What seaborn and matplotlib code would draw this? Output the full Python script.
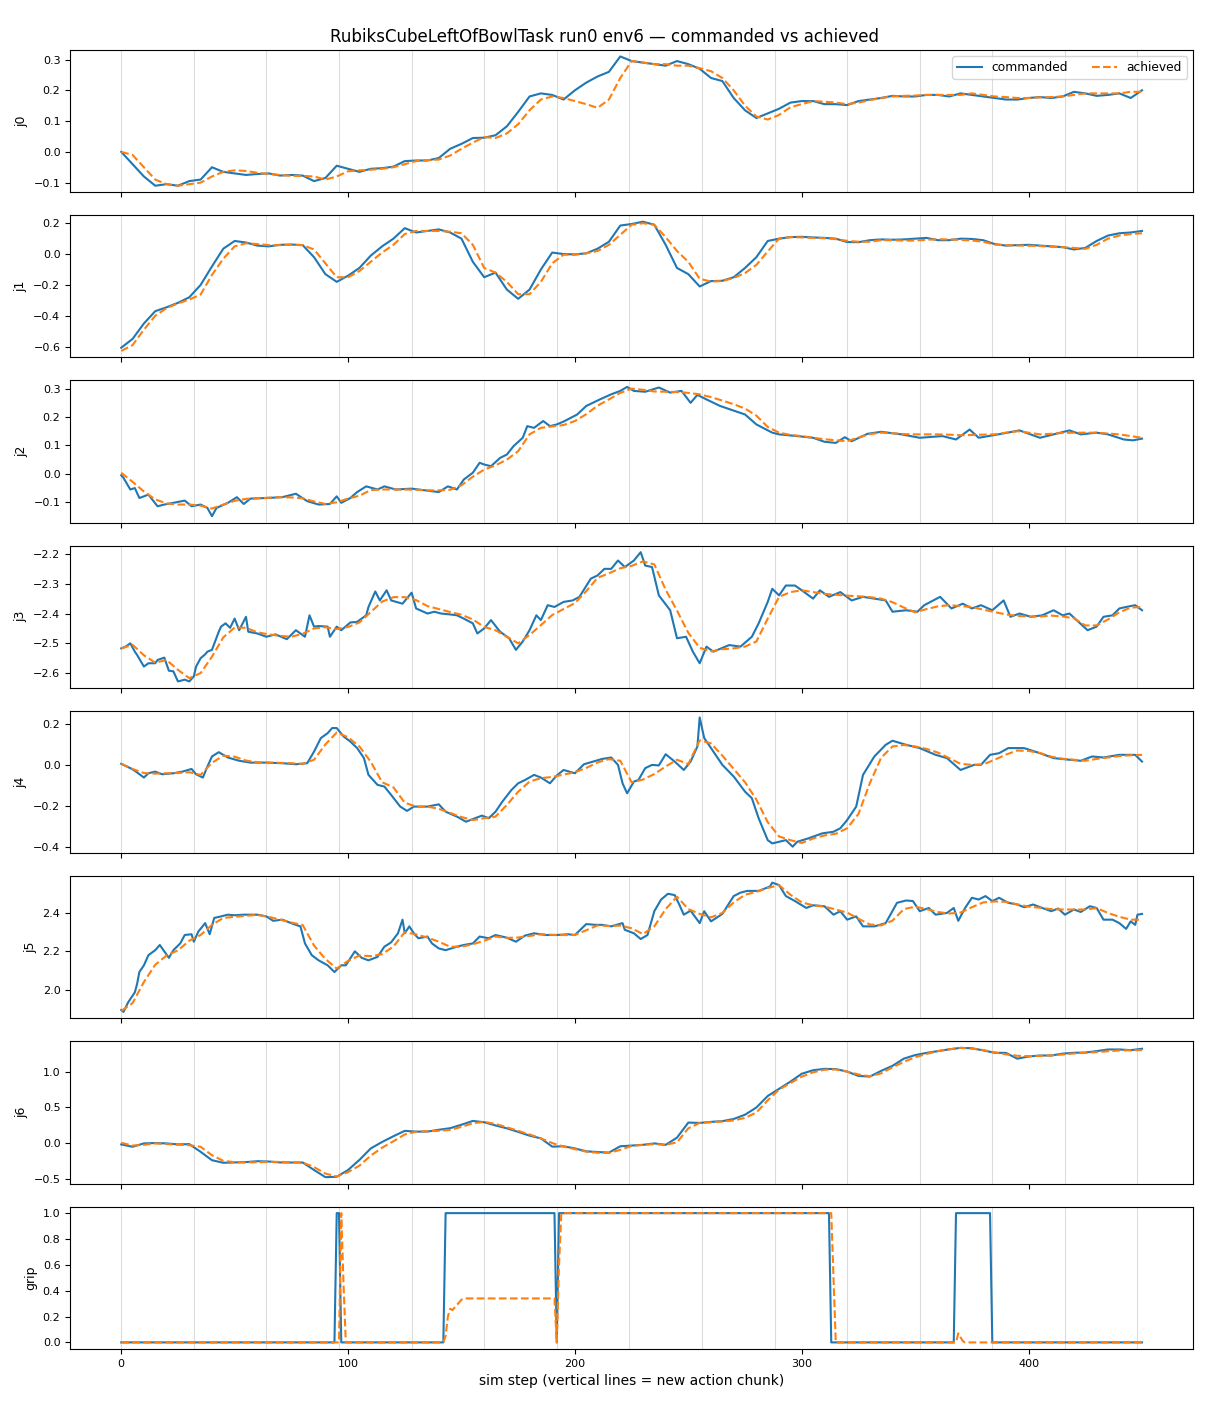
import matplotlib
matplotlib.use("Agg")
import matplotlib.pyplot as plt
import seaborn as sns

# sampled sim steps (every 5th step) and action chunk starts
steps = list(range(0, 451, 5))
chunk_starts = [0, 32, 64, 96, 128, 160, 192, 224, 256, 288, 320, 352, 384, 416, 448]

j0_cmd = [0.0, -0.04, -0.08, -0.11, -0.105, -0.11, -0.095, -0.09, -0.05, -0.065,
          -0.07, -0.075, -0.072, -0.07, -0.077, -0.075, -0.077, -0.095, -0.085, -0.045,
          -0.055, -0.065, -0.055, -0.053, -0.048, -0.03, -0.028, -0.028, -0.02, 0.01,
          0.026, 0.045, 0.046, 0.054, 0.083, 0.13, 0.18, 0.19, 0.185, 0.17,
          0.2, 0.225, 0.245, 0.26, 0.31, 0.295, 0.29, 0.285, 0.28, 0.295,
          0.285, 0.27, 0.24, 0.23, 0.175, 0.135, 0.11, 0.125, 0.14, 0.16,
          0.165, 0.165, 0.155, 0.155, 0.152, 0.165, 0.17, 0.175, 0.182, 0.18,
          0.18, 0.185, 0.185, 0.18, 0.19, 0.185, 0.18, 0.175, 0.17, 0.17,
          0.175, 0.178, 0.175, 0.18, 0.195, 0.19, 0.182, 0.185, 0.19, 0.175,
          0.2]
j0_ach = [0.0, -0.01, -0.05, -0.09, -0.105, -0.11, -0.105, -0.1, -0.08, -0.065,
          -0.06, -0.062, -0.068, -0.072, -0.075, -0.078, -0.078, -0.08, -0.09, -0.08,
          -0.063, -0.06, -0.058, -0.055, -0.05, -0.04, -0.03, -0.027, -0.025, -0.012,
          0.01, 0.03, 0.048, 0.045, 0.06, 0.09, 0.135, 0.17, 0.18, 0.175,
          0.165, 0.155, 0.143, 0.17, 0.24, 0.295, 0.29, 0.285, 0.285, 0.28,
          0.28, 0.272, 0.262, 0.24, 0.2, 0.15, 0.115, 0.105, 0.12, 0.145,
          0.155, 0.165, 0.163, 0.16, 0.155, 0.16, 0.168, 0.175, 0.18, 0.182,
          0.183, 0.185, 0.185, 0.185, 0.185, 0.19, 0.185, 0.18, 0.178, 0.175,
          0.175, 0.177, 0.178, 0.18, 0.185, 0.19, 0.19, 0.19, 0.19, 0.195,
          0.195]

j1_cmd = [-0.607, -0.55, -0.45, -0.37, -0.345, -0.316, -0.28, -0.2, -0.08, 0.035,
          0.085, 0.075, 0.055, 0.05, 0.06, 0.062, 0.058, -0.02, -0.13, -0.18,
          -0.14, -0.09, -0.01, 0.05, 0.1, 0.168, 0.14, 0.15, 0.16, 0.14,
          0.1, -0.05, -0.15, -0.12, -0.23, -0.29, -0.23, -0.1, 0.01, 0.0,
          -0.002, 0.005, 0.035, 0.08, 0.185, 0.195, 0.21, 0.19, 0.06, -0.09,
          -0.13, -0.21, -0.175, -0.173, -0.15, -0.09, -0.02, 0.085, 0.1, 0.11,
          0.112, 0.108, 0.105, 0.1, 0.078, 0.077, 0.09, 0.095, 0.093, 0.095,
          0.1, 0.105, 0.09, 0.09, 0.1, 0.098, 0.09, 0.065, 0.055, 0.058,
          0.06, 0.055, 0.05, 0.045, 0.03, 0.04, 0.085, 0.12, 0.135, 0.14,
          0.15]
j1_ach = [-0.628, -0.59, -0.49, -0.4, -0.35, -0.32, -0.295, -0.262, -0.135, -0.03,
          0.05, 0.07, 0.065, 0.058, 0.058, 0.06, 0.058, 0.03, -0.06, -0.15,
          -0.15, -0.11, -0.05, 0.01, 0.06, 0.13, 0.15, 0.15, 0.15, 0.145,
          0.135, 0.06, -0.09, -0.12, -0.18, -0.26, -0.26, -0.18, -0.06, -0.004,
          -0.004, 0.005, 0.02, 0.06, 0.125, 0.19, 0.2, 0.19, 0.11, 0.02,
          -0.05, -0.16, -0.178, -0.175, -0.155, -0.123, -0.07, 0.017, 0.1, 0.11,
          0.108, 0.105, 0.103, 0.097, 0.086, 0.08, 0.08, 0.09, 0.09, 0.087,
          0.088, 0.093, 0.096, 0.095, 0.092, 0.088, 0.08, 0.062, 0.058, 0.056,
          0.054, 0.052, 0.048, 0.045, 0.04, 0.034, 0.06, 0.1, 0.12, 0.13,
          0.135]

# (step, value) readings of the noisier commanded traces
j2_cmd_pts = [(0, -0.005), (1, -0.014), (4, -0.055), (6, -0.05), (8, -0.085), (12, -0.073),
              (16, -0.114), (19, -0.108), (23, -0.102), (28, -0.094), (31, -0.114), (35, -0.108),
              (38, -0.12), (40, -0.149), (42, -0.12), (47, -0.102), (51, -0.082), (54, -0.106),
              (57, -0.087), (64, -0.085), (71, -0.082), (77, -0.07), (82, -0.096), (87, -0.108),
              (92, -0.106), (95, -0.079), (97, -0.102), (101, -0.085), (104, -0.064), (108, -0.044),
              (113, -0.055), (116, -0.044), (121, -0.055), (128, -0.052), (135, -0.059), (140, -0.064),
              (144, -0.044), (148, -0.055), (151, -0.02), (155, 0.004), (158, 0.039), (160, 0.033),
              (163, 0.027), (167, 0.056), (170, 0.068), (173, 0.098), (177, 0.127), (179, 0.168),
              (182, 0.162), (186, 0.186), (189, 0.168), (192, 0.174), (195, 0.184), (201, 0.209),
              (205, 0.239), (211, 0.262), (216, 0.28), (220, 0.292), (223, 0.306), (226, 0.292),
              (231, 0.289), (237, 0.304), (242, 0.286), (247, 0.292), (251, 0.25), (254, 0.278),
              (258, 0.262), (264, 0.239), (275, 0.209), (280, 0.174), (287, 0.145), (290, 0.139),
              (298, 0.133), (305, 0.127), (310, 0.113), (315, 0.109), (319, 0.129), (322, 0.115),
              (329, 0.141), (335, 0.148), (344, 0.139), (352, 0.127), (362, 0.133), (368, 0.121),
              (374, 0.156), (378, 0.127), (388, 0.141), (396, 0.153), (405, 0.127), (411, 0.139),
              (418, 0.153), (423, 0.139), (430, 0.145), (435, 0.139), (442, 0.121), (446, 0.118),
              (450, 0.124)]
j2_ach = [0.004, -0.028, -0.062, -0.09, -0.104, -0.108, -0.108, -0.112, -0.122, -0.108,
          -0.095, -0.088, -0.086, -0.084, -0.082, -0.083, -0.086, -0.097, -0.106, -0.1,
          -0.087, -0.077, -0.057, -0.055, -0.055, -0.055, -0.056, -0.058, -0.058, -0.056,
          -0.04, -0.01, 0.015, 0.03, 0.05, 0.08, 0.139, 0.162, 0.167, 0.172,
          0.186, 0.21, 0.24, 0.262, 0.285, 0.3, 0.296, 0.29, 0.289, 0.288,
          0.285, 0.28, 0.27, 0.258, 0.245, 0.23, 0.205, 0.165, 0.145, 0.137,
          0.133, 0.127, 0.122, 0.118, 0.115, 0.128, 0.14, 0.145, 0.143, 0.14,
          0.139, 0.139, 0.139, 0.138, 0.136, 0.137, 0.138, 0.139, 0.145, 0.15,
          0.145, 0.139, 0.141, 0.144, 0.145, 0.145, 0.145, 0.142, 0.139, 0.133,
          0.127]

j3_cmd_pts = [(0, -2.517), (2, -2.511), (4, -2.5), (6, -2.528), (7, -2.539), (10, -2.578),
              (12, -2.567), (15, -2.567), (16, -2.556), (19, -2.548), (21, -2.592), (23, -2.594),
              (25, -2.628), (28, -2.622), (30, -2.628), (32, -2.611), (33, -2.578), (35, -2.55),
              (37, -2.537), (38, -2.528), (40, -2.522), (43, -2.461), (44, -2.444), (46, -2.433),
              (48, -2.448), (50, -2.417), (52, -2.456), (55, -2.411), (56, -2.461), (60, -2.467),
              (64, -2.478), (68, -2.47), (73, -2.486), (77, -2.456), (81, -2.478), (83, -2.406),
              (85, -2.444), (87, -2.442), (91, -2.444), (92, -2.478), (95, -2.444), (97, -2.456),
              (101, -2.43), (104, -2.428), (108, -2.406), (109, -2.378), (112, -2.326), (114, -2.356),
              (117, -2.322), (119, -2.356), (124, -2.367), (128, -2.33), (130, -2.383), (135, -2.4),
              (138, -2.394), (141, -2.4), (145, -2.403), (148, -2.406), (151, -2.417), (155, -2.433),
              (157, -2.467), (160, -2.45), (163, -2.422), (167, -2.461), (171, -2.483), (174, -2.522),
              (177, -2.494), (180, -2.456), (183, -2.406), (185, -2.422), (188, -2.372), (191, -2.378),
              (195, -2.361), (199, -2.356), (202, -2.344), (207, -2.283), (210, -2.272), (213, -2.25),
              (216, -2.25), (219, -2.222), (222, -2.244), (226, -2.222), (229, -2.194), (231, -2.239),
              (234, -2.244), (237, -2.339), (242, -2.389), (245, -2.483), (249, -2.478), (252, -2.528),
              (255, -2.567), (258, -2.511), (261, -2.528), (268, -2.506), (273, -2.511), (278, -2.478),
              (281, -2.433), (285, -2.361), (287, -2.317), (290, -2.339), (293, -2.306), (297, -2.306),
              (300, -2.322), (305, -2.35), (308, -2.322), (312, -2.344), (317, -2.328), (322, -2.356),
              (327, -2.344), (332, -2.35), (337, -2.356), (340, -2.394), (346, -2.389), (351, -2.394),
              (354, -2.372), (361, -2.344), (366, -2.383), (371, -2.367), (375, -2.383), (379, -2.372),
              (384, -2.389), (389, -2.356), (392, -2.411), (396, -2.4), (401, -2.411), (406, -2.406),
              (411, -2.389), (415, -2.406), (418, -2.4), (422, -2.428), (426, -2.456), (430, -2.444),
              (433, -2.411), (437, -2.406), (440, -2.383), (443, -2.378), (447, -2.372), (450, -2.389)]
j3_ach = [-2.517, -2.505, -2.54, -2.565, -2.556, -2.589, -2.617, -2.6, -2.545, -2.48,
          -2.447, -2.448, -2.463, -2.47, -2.475, -2.478, -2.468, -2.45, -2.446, -2.452,
          -2.445, -2.43, -2.395, -2.36, -2.345, -2.345, -2.355, -2.375, -2.385, -2.395,
          -2.404, -2.42, -2.445, -2.456, -2.478, -2.5, -2.472, -2.439, -2.405, -2.385,
          -2.365, -2.325, -2.28, -2.265, -2.248, -2.24, -2.225, -2.235, -2.32, -2.39,
          -2.465, -2.515, -2.527, -2.52, -2.517, -2.511, -2.494, -2.417, -2.344, -2.328,
          -2.322, -2.328, -2.334, -2.337, -2.34, -2.342, -2.345, -2.35, -2.362, -2.38,
          -2.396, -2.385, -2.376, -2.372, -2.375, -2.378, -2.387, -2.395, -2.403, -2.408,
          -2.41, -2.41, -2.407, -2.41, -2.416, -2.44, -2.44, -2.42, -2.396, -2.38,
          -2.378]

j4_cmd_pts = [(0, 0.005), (4, -0.016), (6, -0.029), (10, -0.062), (12, -0.041), (15, -0.033),
              (18, -0.046), (23, -0.041), (27, -0.033), (31, -0.02), (33, -0.046), (36, -0.062),
              (38, -0.008), (40, 0.041), (43, 0.062), (47, 0.036), (52, 0.02), (57, 0.011),
              (64, 0.011), (71, 0.008), (77, 0.003), (82, 0.008), (85, 0.065), (88, 0.131),
              (91, 0.155), (93, 0.18), (95, 0.18), (98, 0.139), (101, 0.114), (104, 0.082),
              (107, 0.033), (109, -0.049), (113, -0.098), (116, -0.106), (119, -0.147), (123, -0.204),
              (126, -0.225), (129, -0.204), (135, -0.204), (140, -0.193), (143, -0.229), (148, -0.253),
              (152, -0.278), (156, -0.261), (159, -0.248), (162, -0.261), (165, -0.229), (168, -0.18),
              (172, -0.123), (175, -0.09), (178, -0.074), (182, -0.049), (185, -0.062), (189, -0.09),
              (192, -0.052), (195, -0.025), (200, -0.041), (204, 0.003), (208, 0.016), (212, 0.029),
              (216, 0.036), (219, 0.0), (221, -0.09), (223, -0.139), (226, -0.082), (228, -0.074),
              (231, -0.016), (234, 0.0), (237, -0.003), (240, 0.052), (244, 0.016), (248, -0.025),
              (251, 0.016), (254, 0.09), (255, 0.232), (257, 0.131), (260, 0.082), (265, 0.0),
              (270, -0.057), (275, -0.131), (278, -0.163), (281, -0.261), (285, -0.368), (287, -0.384),
              (290, -0.376), (293, -0.368), (296, -0.4), (298, -0.376), (303, -0.359), (309, -0.335),
              (314, -0.327), (317, -0.31), (320, -0.27), (324, -0.204), (327, -0.049), (332, 0.041),
              (337, 0.098), (340, 0.118), (346, 0.098), (352, 0.082), (359, 0.049), (364, 0.033),
              (370, -0.025), (376, 0.0), (379, 0.0), (383, 0.049), (387, 0.057), (391, 0.082),
              (398, 0.082), (405, 0.057), (411, 0.033), (418, 0.025), (423, 0.02), (428, 0.041),
              (433, 0.036), (440, 0.049), (447, 0.049), (450, 0.016)]
j4_ach = [0.005, -0.02, -0.04, -0.043, -0.041, -0.04, -0.036, -0.049, 0.01, 0.045,
          0.04, 0.021, 0.013, 0.011, 0.01, 0.008, 0.005, 0.025, 0.1, 0.158,
          0.135, 0.09, 0.015, -0.085, -0.11, -0.185, -0.204, -0.204, -0.215, -0.235,
          -0.255, -0.27, -0.261, -0.253, -0.196, -0.131, -0.082, -0.065, -0.059, -0.048,
          -0.036, -0.015, 0.012, 0.028, 0.02, -0.085, -0.072, -0.045, -0.008, 0.025,
          0.004, 0.12, 0.105, 0.045, -0.02, -0.085, -0.17, -0.28, -0.35, -0.368,
          -0.382, -0.36, -0.345, -0.337, -0.31, -0.24, -0.09, 0.035, 0.09, 0.097,
          0.09, 0.078, 0.06, 0.033, 0.005, 0.0, 0.002, 0.025, 0.05, 0.07,
          0.068, 0.058, 0.04, 0.03, 0.025, 0.02, 0.029, 0.036, 0.043, 0.047,
          0.049]

j5_cmd_pts = [(0, 1.894), (1, 1.884), (3, 1.933), (6, 1.986), (7, 2.03), (8, 2.092),
              (10, 2.127), (12, 2.18), (15, 2.206), (17, 2.233), (21, 2.166), (23, 2.206),
              (26, 2.241), (28, 2.285), (31, 2.289), (32, 2.25), (34, 2.303), (37, 2.347),
              (39, 2.289), (41, 2.374), (44, 2.382), (47, 2.391), (50, 2.388), (54, 2.391),
              (57, 2.391), (60, 2.391), (64, 2.382), (67, 2.359), (71, 2.365), (76, 2.342),
              (79, 2.33), (81, 2.241), (84, 2.18), (87, 2.153), (91, 2.127), (94, 2.092),
              (97, 2.127), (99, 2.127), (103, 2.2), (106, 2.166), (109, 2.153), (113, 2.171),
              (116, 2.224), (119, 2.247), (122, 2.294), (124, 2.365), (125, 2.294), (127, 2.33),
              (129, 2.294), (131, 2.268), (135, 2.277), (137, 2.241), (140, 2.215), (143, 2.206),
              (148, 2.224), (151, 2.233), (155, 2.241), (158, 2.277), (162, 2.268), (165, 2.285),
              (170, 2.271), (174, 2.25), (178, 2.282), (182, 2.294), (187, 2.285), (192, 2.285),
              (197, 2.289), (200, 2.285), (205, 2.342), (209, 2.338), (212, 2.338), (216, 2.33),
              (221, 2.347), (222, 2.312), (226, 2.294), (229, 2.264), (232, 2.285), (235, 2.409),
              (238, 2.47), (241, 2.5), (244, 2.493), (246, 2.444), (248, 2.391), (251, 2.412),
              (255, 2.347), (257, 2.409), (260, 2.356), (265, 2.395), (270, 2.488), (273, 2.506),
              (276, 2.515), (281, 2.515), (286, 2.538), (287, 2.558), (290, 2.545), (293, 2.488),
              (297, 2.462), (302, 2.426), (305, 2.44), (310, 2.435), (314, 2.391), (317, 2.409),
              (320, 2.365), (324, 2.382), (327, 2.33), (332, 2.33), (337, 2.347), (342, 2.453),
              (346, 2.465), (349, 2.462), (352, 2.409), (356, 2.426), (359, 2.391), (364, 2.4),
              (367, 2.426), (369, 2.359), (372, 2.426), (375, 2.479), (378, 2.47), (381, 2.488),
              (384, 2.462), (387, 2.479), (391, 2.453), (395, 2.444), (398, 2.43), (402, 2.444),
              (406, 2.426), (410, 2.409), (413, 2.423), (416, 2.391), (420, 2.418), (423, 2.405),
              (427, 2.435), (430, 2.426), (433, 2.365), (437, 2.365), (440, 2.347), (443, 2.317),
              (445, 2.356), (447, 2.338), (448, 2.391), (450, 2.395)]
j5_ach = [1.889, 1.93, 2.04, 2.13, 2.178, 2.205, 2.255, 2.285, 2.338, 2.374,
          2.38, 2.385, 2.39, 2.38, 2.365, 2.35, 2.337, 2.23, 2.16, 2.11,
          2.15, 2.178, 2.175, 2.185, 2.225, 2.3, 2.288, 2.272, 2.25, 2.224,
          2.224, 2.237, 2.255, 2.277, 2.27, 2.272, 2.28, 2.289, 2.286, 2.285,
          2.285, 2.31, 2.335, 2.332, 2.334, 2.32, 2.29, 2.33, 2.42, 2.485,
          2.42, 2.395, 2.377, 2.4, 2.455, 2.495, 2.51, 2.53, 2.545, 2.495,
          2.455, 2.44, 2.433, 2.418, 2.402, 2.37, 2.34, 2.335, 2.36, 2.42,
          2.433, 2.42, 2.405, 2.397, 2.402, 2.43, 2.455, 2.46, 2.458, 2.445,
          2.433, 2.427, 2.42, 2.418, 2.418, 2.418, 2.425, 2.4, 2.38, 2.365,
          2.365]

j6_cmd = [-0.014, -0.047, 0.0, 0.005, 0.0, -0.014, -0.01, -0.117, -0.234, -0.27,
          -0.265, -0.26, -0.248, -0.252, -0.265, -0.266, -0.266, -0.37, -0.47, -0.465,
          -0.37, -0.23, -0.07, 0.02, 0.1, 0.175, 0.164, 0.165, 0.19, 0.212,
          0.26, 0.313, 0.295, 0.25, 0.21, 0.16, 0.108, 0.07, -0.045, -0.04,
          -0.07, -0.11, -0.12, -0.128, -0.04, -0.03, -0.02, 0.0, -0.02, 0.08,
          0.29, 0.285, 0.3, 0.31, 0.34, 0.4, 0.5, 0.66, 0.76, 0.86,
          0.97, 1.019, 1.038, 1.035, 1.0, 0.94, 0.93, 1.01, 1.08, 1.18,
          1.23, 1.26, 1.285, 1.31, 1.33, 1.325, 1.295, 1.262, 1.26, 1.18,
          1.21, 1.224, 1.224, 1.25, 1.262, 1.265, 1.285, 1.308, 1.308, 1.298,
          1.318]
j6_ach = [0.009, -0.03, -0.02, 0.0, -0.009, -0.018, -0.025, -0.047, -0.164, -0.243,
          -0.262, -0.265, -0.262, -0.258, -0.257, -0.262, -0.266, -0.33, -0.42, -0.46,
          -0.4, -0.31, -0.17, -0.06, 0.03, 0.125, 0.164, 0.17, 0.175, 0.188,
          0.23, 0.28, 0.3, 0.271, 0.225, 0.175, 0.125, 0.07, 0.005, -0.045,
          -0.08, -0.115, -0.13, -0.131, -0.09, -0.035, -0.02, -0.01, -0.02, 0.015,
          0.21, 0.285, 0.295, 0.305, 0.32, 0.355, 0.43, 0.6, 0.75, 0.84,
          0.93, 0.99, 1.025, 1.03, 1.0, 0.96, 0.935, 0.975, 1.06, 1.135,
          1.2, 1.245, 1.285, 1.31, 1.33, 1.32, 1.3, 1.268, 1.24, 1.22,
          1.215, 1.218, 1.225, 1.238, 1.252, 1.262, 1.271, 1.283, 1.294, 1.297,
          1.299]

# gripper: values only change at these steps (held constant in between)
grip_cmd_steps = [0, 94, 95, 96, 97, 142, 143, 191, 192, 193, 312, 313, 367, 368, 383, 384, 450]
grip_cmd_vals = [0, 0, 1, 1, 0, 0, 1, 1, 0, 1, 1, 0, 0, 1, 1, 0, 0]
grip_ach_steps = [0, 96, 97, 98, 99, 142, 143, 144, 145, 146, 147, 148, 149, 150, 151,
                  191, 192, 193, 194, 313, 314, 315, 368, 369, 370, 371, 372, 450]
grip_ach_vals = [0, 0, 1, 0.45, 0, 0, 0.05, 0.2, 0.26, 0.25, 0.27, 0.29, 0.31, 0.33, 0.34,
                 0.34, 0, 0.6, 1, 1, 0.5, 0, 0, 0.07, 0.04, 0.01, 0, 0]


def unzip(pts):
    return [p[0] for p in pts], [p[1] for p in pts]


panels = [
    ("j0", steps, j0_cmd, steps, j0_ach),
    ("j1", steps, j1_cmd, steps, j1_ach),
    ("j2", *unzip(j2_cmd_pts), steps, j2_ach),
    ("j3", *unzip(j3_cmd_pts), steps, j3_ach),
    ("j4", *unzip(j4_cmd_pts), steps, j4_ach),
    ("j5", *unzip(j5_cmd_pts), steps, j5_ach),
    ("j6", steps, j6_cmd, steps, j6_ach),
    ("grip", grip_cmd_steps, grip_cmd_vals, grip_ach_steps, grip_ach_vals),
]

fig, axes = plt.subplots(8, 1, figsize=(12.1, 14.08), dpi=100, sharex=True)
fig.subplots_adjust(left=0.058, right=0.986, top=0.9645, bottom=0.042, hspace=0.162)

for i, (name, xc, yc, xa, ya) in enumerate(panels):
    ax = axes[i]
    for c in chunk_starts:
        ax.axvline(c, color="#dcdcdc", lw=0.8, zorder=0)
    sns.lineplot(x=xc, y=yc, ax=ax, color="#1f77b4", lw=1.5,
                 label="commanded" if i == 0 else None)
    sns.lineplot(x=xa, y=ya, ax=ax, color="#ff7f0e", lw=1.5, linestyle="--",
                 label="achieved" if i == 0 else None)
    ax.set_ylabel(name, fontsize=9)
    ax.tick_params(labelsize=8)
    if i == 0:
        ax.legend(loc="upper right", ncol=2, fontsize=8.8)

axes[-1].set_xlabel("sim step (vertical lines = new action chunk)", fontsize=10)
fig.suptitle("RubiksCubeLeftOfBowlTask run0 env6 — commanded vs achieved", fontsize=12, y=0.98)

fig.savefig("out.png", dpi=100)
